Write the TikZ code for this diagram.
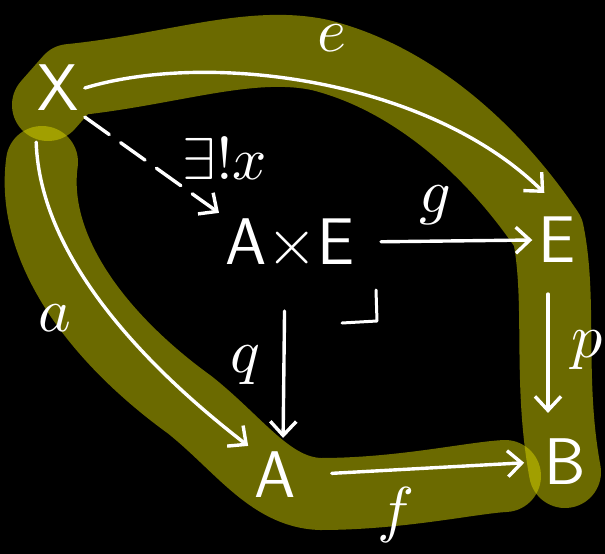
\documentclass[tikz,border=0pt]{standalone}
\usepackage{fontspec}
\usepackage{unicode-math}
\usetikzlibrary{arrows.meta,calc}
\definecolor{tiza}{HTML}{FFFFFF}
\definecolor{oliva}{HTML}{D7D500}

\begin{document}
\begin{tikzpicture}[x=1pt, y=-1pt,
    obj/.style={font=\fontsize{66}{68}\selectfont\sffamily, text=tiza, inner sep=6pt},
    etq/.style={font=\fontsize{62}{64}\selectfont, text=tiza, inner sep=0pt},
    flecha/.style={tiza, line width=3.4pt, line cap=round,
      -{Straight Barb[length=14pt,width=26pt,line width=3.4pt]}},
    banda/.style={oliva, opacity=0.5, line width=72pt, line cap=round, line join=round}]
  \useasboundingbox (0,0) rectangle (605,554);
  \fill[black] (0,0) rectangle (605,554);
  \clip (0,0) rectangle (605,554);
  % franjas resaltadas
  \draw[banda] (48,105) -- (70,80) .. controls (170,70) and (250,40) .. (320,55)
    .. controls (420,80) and (500,160) .. (548,232)
    .. controls (562,300) and (548,380) .. (565,472);
  \draw[banda] (42,162) .. controls (30,250) and (100,340) .. (190,405)
    .. controls (240,445) and (270,492) .. (320,494)
    .. controls (400,494) and (470,478) .. (505,476);
  % objetos
  \node[obj] (X) at (58,88) {X};
  \node[obj] (AE) at (290,242) {A$\times$E};
  \node[obj] (E) at (557,240) {E};
  \node[obj] (A) at (275,475) {A};
  \node[obj] (B) at (565,462) {B};
  % flechas
  \draw[flecha] (X.east) .. controls (210,50) and (430,80) .. ($(E.north west)+(12,-18)$);
  \draw[flecha, dash pattern=on 30pt off 14pt] (X.south east) -- (AE.north west);
  \draw[flecha, shorten <=20pt] (AE.east) -- (E.west);
  \draw[flecha, shorten <=40pt, shorten >=8pt] ($(AE.south)+(-5,0)$) -- ($(A.north)+(8,0)$);
  \draw[flecha] ($(E.south)+(-9,25)$) -- ($(B.north)+(-17,-20)$);
  \draw[flecha] ($(X.south west)+(5,25)$) .. controls (40,260) and (150,370) .. (A.north west);
  \draw[flecha, shorten <=30pt, shorten >=14pt] (A.east) -- (B.west);
  \draw[tiza, line width=3pt, line cap=round, line join=round] (342,323) -- (377,321) -- (376,290);
  % etiquetas
  \node[etq] (le) at (332,38) {$e$};
  \node[etq, font=\fontsize{60}{62}\selectfont] (lx) at (225,158) {$\exists!x$};
  \node[etq] (lg) at (435,205) {$g$};
  \node[etq] (la) at (55,318) {$a$};
  \node[etq] (lq) at (245,365) {$q$};
  \node[etq] (lp) at (588,350) {$p$};
  \node[etq] (lf) at (395,515) {$f$};
\end{tikzpicture}
\end{document}
